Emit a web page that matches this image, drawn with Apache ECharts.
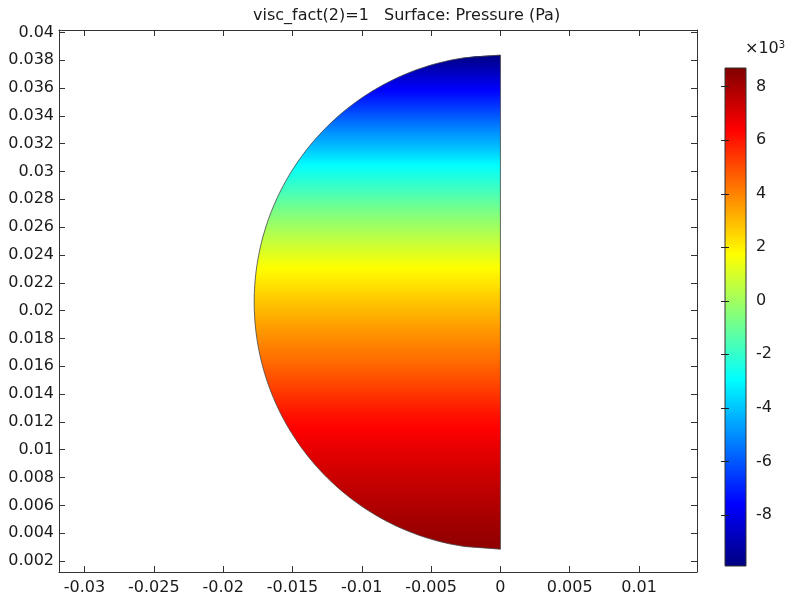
<!DOCTYPE html>
<html>
<head>
<meta charset="utf-8">
<script src="https://cdn.jsdelivr.net/npm/echarts@6/dist/echarts.min.js"></script>
<style>
html,body{margin:0;padding:0;background:#fff}
#main{width:785px;height:601px}
</style>
</head>
<body>
<div id="main"></div>
<script>
// axis ticks
var xTicks = [-0.03, -0.025, -0.02, -0.015, -0.01, -0.005, 0, 0.005, 0.01];
var yTicks = [0.002, 0.004, 0.006, 0.008, 0.01, 0.012, 0.014, 0.016, 0.018, 0.02,
              0.022, 0.024, 0.026, 0.028, 0.03, 0.032, 0.034, 0.036, 0.038, 0.04];
var barTicks = [-8, -6, -4, -2, 0, 2, 4, 6, 8];

// pressure (x10^3 Pa) read along the symmetry axis, top to bottom
var profileY = [0.03837, 0.03729, 0.03585, 0.03441, 0.03297, 0.03167, 0.03045, 0.02864, 0.02699, 0.02504,
                0.02307, 0.02070, 0.01890, 0.01638, 0.01458, 0.01242, 0.01062, 0.00774, 0.00486, 0.00285];
var profileP = [-9.85, -8.90, -7.58, -6.37, -5.07, -4.05, -2.93, -1.72, -0.61, 0.60,
                1.72, 2.74, 3.49, 4.42, 5.16, 6.09, 6.65, 7.40, 8.05, 8.42];

var pMin = -9.91, pMax = 8.70;
var jetColors = ['#000080', '#0000ff', '#0080ff', '#00ffff', '#80ff80', '#ffff00', '#ff8000', '#ff0000', '#800000'];

var FONT = 'DejaVu Sans';
var INK = '#1a1a1a';
var LINE = '#333';

var diskTop = profileY[0];
var diskBottom = profileY[profileY.length - 1];
var diskCy = (diskTop + diskBottom) / 2;
var diskR = (diskTop - diskBottom) / 2;

function colorOf(p) {
	return echarts.color.lerp((p - pMin) / (pMax - pMin), jetColors);
}
function arcX(y) {
	var d = diskR * diskR - (y - diskCy) * (y - diskCy);
	return d > 0 ? -Math.sqrt(d) : 0;
}

var bands = [];
for (var i = 0; i < profileY.length - 1; i++) {
	bands.push([profileY[i], profileY[i + 1], profileP[i], profileP[i + 1]]);
}

var myChart = echarts.init(document.getElementById('main'));

function renderBand(params, api) {
	var ya = api.value(0), yb = api.value(1), pa = api.value(2), pb = api.value(3);
	var ybx = Math.max(yb - 0.00006, diskBottom); // small overlap to hide seams
	var pts = [];
	var n = 12;
	for (var k = 0; k <= n; k++) {
		var y = ya + (ybx - ya) * k / n;
		pts.push(api.coord([arcX(y), y]));
	}
	pts.push(api.coord([0, ybx]));
	pts.push(api.coord([0, ya]));
	var top = api.coord([0, ya]);
	var bot = api.coord([0, yb]);
	var stops = [];
	for (var s = 0; s <= 4; s++) {
		stops.push({offset: s / 4, color: colorOf(pa + (pb - pa) * s / 4)});
	}
	var grad = new echarts.graphic.LinearGradient(0, top[1], 0, bot[1], stops, true);
	return {
		type: 'polygon',
		shape: {points: pts},
		style: {fill: grad}
	};
}

function renderOutline(params, api) {
	var pts = [];
	var n = 180;
	for (var k = 0; k <= n; k++) {
		var y = diskTop - (diskTop - diskBottom) * k / n;
		pts.push(api.coord([arcX(y), y]));
	}
	return {
		type: 'polygon',
		shape: {points: pts},
		style: {fill: null, stroke: '#444', lineWidth: 0.8}
	};
}

function renderBar(params, api) {
	var a = api.coord([0, pMax]);
	var b = api.coord([1, pMin]);
	var stops = jetColors.map(function (c, i) {
		return {offset: 1 - i / (jetColors.length - 1), color: c};
	});
	return {
		type: 'rect',
		shape: {x: a[0], y: a[1], width: b[0] - a[0], height: b[1] - a[1]},
		style: {
			fill: new echarts.graphic.LinearGradient(0, 0, 0, 1, stops),
			stroke: LINE, lineWidth: 1
		}
	};
}

var xMin = -0.03184, xMax = 0.01418, yMin = 0.00121, yMax = 0.04017;

function frameAxis(pos, showLabel, ticks, min, max) {
	return {
		type: 'value', position: pos, gridIndex: 0, min: min, max: max, z: 10,
		axisLine: {show: true, onZero: false, lineStyle: {color: LINE, width: 1}},
		axisTick: {show: true, inside: true, length: 6, customValues: ticks, lineStyle: {color: LINE}},
		axisLabel: {show: showLabel, customValues: ticks, color: INK, fontFamily: FONT, fontSize: 16,
			margin: pos === 'bottom' ? 8 : 5},
		splitLine: {show: false}
	};
}

var option = {
	animation: false,
	backgroundColor: '#fff',
	title: {
		text: 'visc_fact(2)=1   Surface: Pressure (Pa)',
		left: 248, top: 3,
		textStyle: {color: INK, fontFamily: FONT, fontSize: 16, fontWeight: 'normal'}
	},
	graphic: [{
		type: 'text', left: 745, top: 40,
		style: {
			text: '×10{s|3}', fill: INK, font: '16px "DejaVu Sans"',
			rich: {s: {fontSize: 10, fontFamily: FONT, verticalAlign: 'top', padding: [0, 0, 8, 0]}}
		}
	}],
	grid: [
		{left: 59, top: 30, width: 638, height: 542, outerBoundsMode: 'none'},
		{left: 725, top: 68, width: 21, height: 498, outerBoundsMode: 'none'}
	],
	xAxis: [
		frameAxis('bottom', true, xTicks, xMin, xMax),
		frameAxis('top', false, xTicks, xMin, xMax),
		{type: 'value', gridIndex: 1, min: 0, max: 1, show: false}
	],
	yAxis: [
		frameAxis('left', true, yTicks, yMin, yMax),
		frameAxis('right', false, yTicks, yMin, yMax),
		{
			type: 'value', gridIndex: 1, position: 'right', min: pMin, max: pMax, z: 10,
			axisLine: {show: false},
			axisTick: {show: true, inside: true, length: 4, customValues: barTicks, lineStyle: {color: '#222'}},
			axisLabel: {customValues: barTicks, color: INK, fontFamily: FONT, fontSize: 16, margin: 10},
			splitLine: {show: false}
		},
		{
			type: 'value', gridIndex: 1, position: 'left', min: pMin, max: pMax, z: 10,
			axisLine: {show: false},
			axisTick: {show: true, inside: true, length: 4, customValues: barTicks, lineStyle: {color: '#222'}},
			axisLabel: {show: false},
			splitLine: {show: false}
		}
	],
	series: [
		{
			type: 'custom', name: 'pressure', xAxisIndex: 0, yAxisIndex: 0, clip: false,
			renderItem: renderBand, data: bands, silent: true
		},
		{
			type: 'custom', name: 'outline', xAxisIndex: 0, yAxisIndex: 0, clip: false, z: 3,
			renderItem: renderOutline, data: [[0, diskCy]], silent: true
		},
		{
			type: 'custom', name: 'colorbar', xAxisIndex: 2, yAxisIndex: 2, clip: false,
			renderItem: renderBar, data: [[0, pMin]], silent: true
		}
	]
};
myChart.setOption(option);
</script>
</body>
</html>
